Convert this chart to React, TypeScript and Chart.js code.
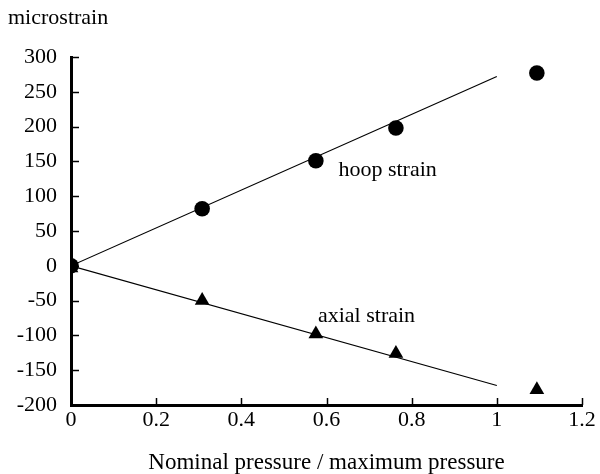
import React, { useEffect, useRef } from "react";
import { Chart, registerables } from "chart.js";

Chart.register(...registerables);

const hoopX = [0, 0.308, 0.575, 0.763, 1.094];
const hoopY = [0, 82, 151, 198, 277];
const axialX = [0, 0.308, 0.575, 0.763, 1.094];
const axialY = [-3, -50, -98, -126, -178];
const hoopTrendX = [0, 1];
const hoopTrendY = [0, 272];
const axialTrendX = [0, 1];
const axialTrendY = [0, -172];
const xTicks = [0, 0.2, 0.4, 0.6, 0.8, 1, 1.2];
const yTicks = [-200, -150, -100, -50, 0, 50, 100, 150, 200, 250, 300];
const labelTexts = ["hoop strain", "axial strain"];
const labelX = [0.628, 0.58];
const labelY = [138, -73];

const FONT = "'Liberation Serif', 'Times New Roman', serif";

export default function App() {
  const ref = useRef<HTMLCanvasElement | null>(null);
  useEffect(() => {
    const canvas = ref.current;
    if (!canvas) return;
    const pts = (xs: number[], ys: number[]) => xs.map((x, i) => ({ x, y: ys[i] }));
    const overlay = {
      id: "overlay",
      afterDraw(chart: any) {
        const ctx = chart.ctx;
        const xs = chart.scales.x;
        const ys = chart.scales.y;
        ctx.save();
        ctx.strokeStyle = "#000";
        ctx.lineWidth = 1.5;
        xTicks.forEach((v) => {
          const px = Math.round(xs.getPixelForValue(v)) + 0.5;
          ctx.beginPath();
          ctx.moveTo(px, ys.bottom);
          ctx.lineTo(px, ys.bottom - 7);
          ctx.stroke();
        });
        yTicks.forEach((v) => {
          const py = Math.round(ys.getPixelForValue(v)) + 0.5;
          ctx.beginPath();
          ctx.moveTo(xs.left, py);
          ctx.lineTo(xs.left + 8, py);
          ctx.stroke();
        });
        ctx.fillStyle = "#000";
        ctx.font = `22px ${FONT}`;
        ctx.textBaseline = "middle";
        ctx.textAlign = "left";
        labelTexts.forEach((t, i) => {
          ctx.fillText(t, xs.getPixelForValue(labelX[i]), ys.getPixelForValue(labelY[i]));
        });
        ctx.fillText("microstrain", 8, 18);
        ctx.restore();
      },
    };
    const chart = new Chart(canvas, {
      type: "scatter",
      data: {
        datasets: [
          {
            type: "line",
            data: pts(hoopTrendX, hoopTrendY),
            borderColor: "#000",
            borderWidth: 1.2,
            pointRadius: 0,
            fill: false,
          },
          {
            type: "line",
            data: pts(axialTrendX, axialTrendY),
            borderColor: "#000",
            borderWidth: 1.2,
            pointRadius: 0,
            fill: false,
          },
          {
            data: pts(hoopX, hoopY),
            pointStyle: "circle",
            pointRadius: 7.8,
            backgroundColor: "#000",
            borderColor: "#000",
            borderWidth: 0,
          },
          {
            data: pts(axialX, axialY),
            pointStyle: "triangle",
            pointRadius: 8.5,
            backgroundColor: "#000",
            borderColor: "#000",
            borderWidth: 0,
          },
        ],
      } as any,
      options: {
        animation: false,
        responsive: false,
        maintainAspectRatio: false,
        layout: { padding: { top: 57, right: 18, left: 0, bottom: 0 } },
        plugins: { legend: { display: false }, tooltip: { enabled: false }, title: { display: false } },
        scales: {
          x: {
            type: "linear",
            min: 0,
            max: 1.2,
            afterBuildTicks: (s: any) => {
              s.ticks = xTicks.map((v) => ({ value: v }));
            },
            afterFit: (s: any) => {
              s.height = 69;
            },
            grid: { display: false, drawTicks: false },
            border: { display: true, color: "#000", width: 3 },
            ticks: {
              color: "#000",
              font: { family: FONT, size: 22 },
              padding: 2,
              maxRotation: 0,
              callback: (v: any) => String(Math.round(Number(v) * 10) / 10),
            },
            title: {
              display: true,
              text: "Nominal pressure / maximum pressure",
              color: "#000",
              font: { family: FONT, size: 23, lineHeight: 1 },
              padding: { top: 0, bottom: 0 },
            },
          },
          y: {
            type: "linear",
            min: -200,
            max: 300,
            afterBuildTicks: (s: any) => {
              s.ticks = yTicks.map((v) => ({ value: v }));
            },
            afterFit: (s: any) => {
              s.width = 71;
            },
            grid: { display: false, drawTicks: false },
            border: { display: true, color: "#000", width: 3 },
            ticks: {
              color: "#000",
              font: { family: FONT, size: 22 },
              padding: 14,
            },
          },
        },
      } as any,
      plugins: [overlay],
    });
    return () => chart.destroy();
  }, []);
  return (
    <div style={{ position: "absolute", left: 0, top: 0, width: 600, height: 474, background: "#fff" }}>
      <canvas ref={ref} width={600} height={474} style={{ width: 600, height: 474 }} />
    </div>
  );
}
